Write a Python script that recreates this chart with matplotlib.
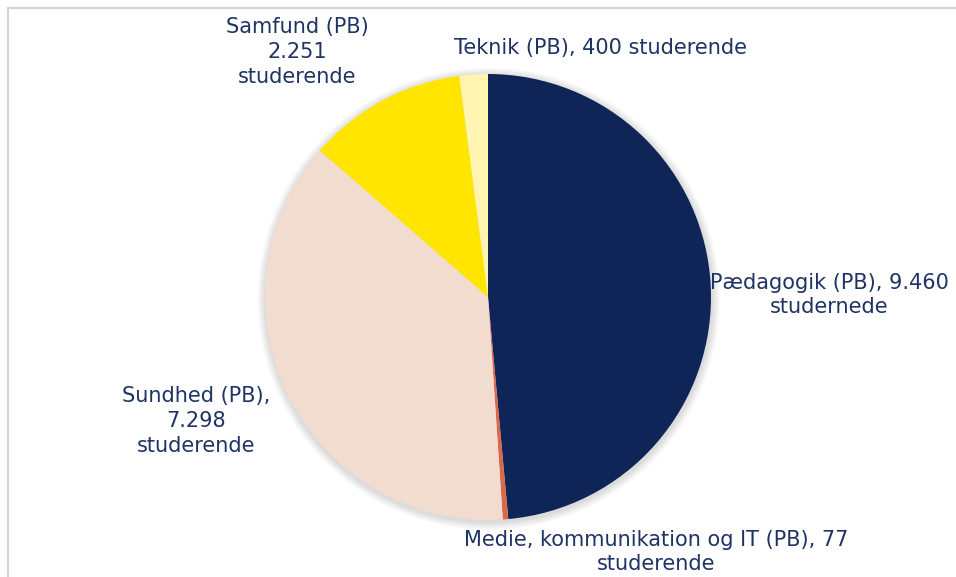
import matplotlib.pyplot as plt
from matplotlib.patches import Rectangle, Circle

plt.rcParams["font.family"] = ["DejaVu Sans"]

# data
categories = ["Pædagogik (PB)", "Medie, kommunikation og IT (PB)", "Sundhed (PB)", "Samfund (PB)", "Teknik (PB)"]
students = [9460, 77, 7298, 2251, 400]
colors = ["#0f2557", "#d9694a", "#f2dccf", "#ffe500", "#fff5b0"]
labels = [
    "Pædagogik (PB), 9.460\nstudernede",
    "Medie, kommunikation og IT (PB), 77\nstuderende",
    "Sundhed (PB),\n7.298\nstuderende",
    "Samfund (PB)\n2.251\nstuderende",
    "Teknik (PB), 400 studerende",
]
# label centres in pixels (x, y from top)
label_pos = [(829, 295), (656, 552), (196, 421), (297, 52), (600, 48)]

W, H = 956, 577
fig = plt.figure(figsize=(W / 100, H / 100), dpi=100)
fig.patch.set_facecolor("white")

# light frame of the chart area
fig.patches.append(Rectangle((8 / W, -0.1), 1.0, 1 - 8 / H + 0.1, transform=fig.transFigure,
                             fill=False, edgecolor="#d4d4d4", linewidth=1.6))

# pie axes, centre (488, 297), radius 223 px
cx, cy, r = 488, 297, 223
ax = fig.add_axes([(cx - r) / W, (H - cy - r) / H, 2 * r / W, 2 * r / H])
ax.set_aspect("equal")
ax.axis("off")

# soft shadow
for i in range(6):
    ax.add_patch(Circle((0.003, -0.008), 1.0 + 0.006 * (i + 1), color="black",
                        alpha=0.022, linewidth=0, zorder=0, clip_on=False))

wedges, _ = ax.pie(students, colors=colors, startangle=90, counterclock=False, radius=1.0,
                   wedgeprops={"linewidth": 0, "zorder": 2})
for w in wedges:
    w.set_clip_on(False)
ax.set_xlim(-1, 1)
ax.set_ylim(-1, 1)

for lab, (x, y) in zip(labels, label_pos):
    fig.text(x / W, 1 - y / H, lab, ha="center", va="center", fontsize=15,
             color="#1f3364", linespacing=1.3)

fig.savefig("out.png", dpi=100)
